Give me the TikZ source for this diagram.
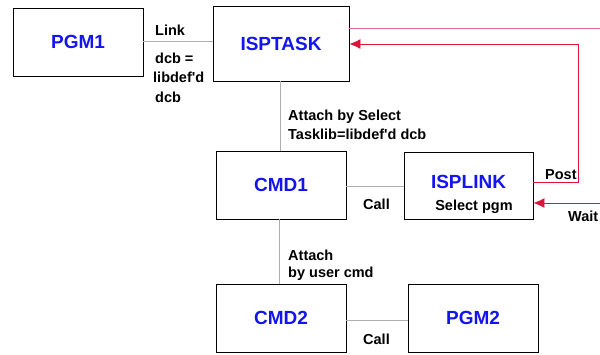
\documentclass[tikz,border=0pt]{standalone}
\usepackage{fontspec}
\setmainfont{Liberation Sans}
\usetikzlibrary{arrows.meta}
\definecolor{redline}{RGB}{220,20,60}
\definecolor{pinkline}{RGB}{228,110,140}
\definecolor{conn}{RGB}{175,175,175}
\definecolor{lblue}{RGB}{20,20,240}
\tikzset{
  box/.style={draw=black, line width=0.9pt, minimum width=#1, inner sep=0pt},
  boxlabel/.style={text=lblue, font=\bfseries\fontsize{19}{21}\selectfont},
  lbl/.style={anchor=west, inner sep=0pt, font=\bfseries\fontsize{14.5}{16}\selectfont},
  link/.style={draw=conn, line width=0.9pt},
  redarrow/.style={draw=redline, line width=0.9pt, -{Latex[length=11pt,width=10pt]}}
}
\begin{document}
\begin{tikzpicture}[x=1pt,y=-1pt]
\useasboundingbox (0,0) rectangle (600,354);
% boxes
\node[box=130pt, minimum height=68pt, boxlabel] (pgm1) at (78,42) {PGM1};
\node[box=136pt, minimum height=75pt, boxlabel] (isptask) at (281,43.5) {ISPTASK};
\node[box=130pt, minimum height=68pt, boxlabel] (cmd1) at (281,185) {CMD1};
\node[box=129pt, minimum height=67pt] (isplink) at (468.5,185.5) {};
\node[boxlabel, inner sep=0pt] (isplinkt) at (468.5,182) {ISPLINK};
\node[inner sep=0pt, font=\bfseries\fontsize{14.5}{16}\selectfont] (selpgm) at (474,207) {Select pgm};
\node[box=130pt, minimum height=68pt, boxlabel] (cmd2) at (281,318) {CMD2};
\node[box=130pt, minimum height=68pt, boxlabel] (pgm2) at (473,318) {PGM2};
% connectors
\draw[link] (pgm1.east |- 0,41) -- (isptask.west |- 0,41);
\draw[link] (280,81) coordinate (a1) -- (a1 |- cmd1.north);
\draw[link] (cmd1.east |- 0,186) -- (isplink.west |- 0,186);
\draw[link] (279,219) coordinate (a2) -- (a2 |- cmd2.north);
\draw[link] (cmd2.east |- 0,320) -- (pgm2.west |- 0,320);
% red lines
\coordinate (topend) at (600,28);
\draw[draw=pinkline, line width=0.9pt] (isptask.east |- topend) -- (topend);
\coordinate (pcorner) at (578,182);
\draw[redarrow] (isplink.east |- pcorner) -- (pcorner) -- (578,44) -- (isptask.east |- 0,44);
\coordinate (waitstart) at (600,203);
\draw[redarrow] (waitstart) -- (isplink.east |- waitstart);
% labels
\node[lbl] (tlink) at (155,30) {Link};
\node[lbl] (tdcb1) at (155,58) {dcb =};
\node[lbl] (tdcb2) at (153,77) {libdef\textquotesingle d};
\node[lbl] (tdcb3) at (155,97) {dcb};
\node[lbl] (tatt1) at (288,117) {Attach by Select};
\node[lbl] (tatt2) at (288,134) {Tasklib=libdef\textquotesingle d dcb};
\node[lbl] (tcall1) at (363,204) {Call};
\node[lbl] (tpost) at (545,175) {Post};
\node[lbl] (twait) at (568,216) {Wait};
\node[lbl] (tatt3) at (288,255) {Attach};
\node[lbl] (tatt4) at (288,274) {by user cmd};
\node[lbl] (tcall2) at (363,339) {Call};
\end{tikzpicture}
\end{document}
